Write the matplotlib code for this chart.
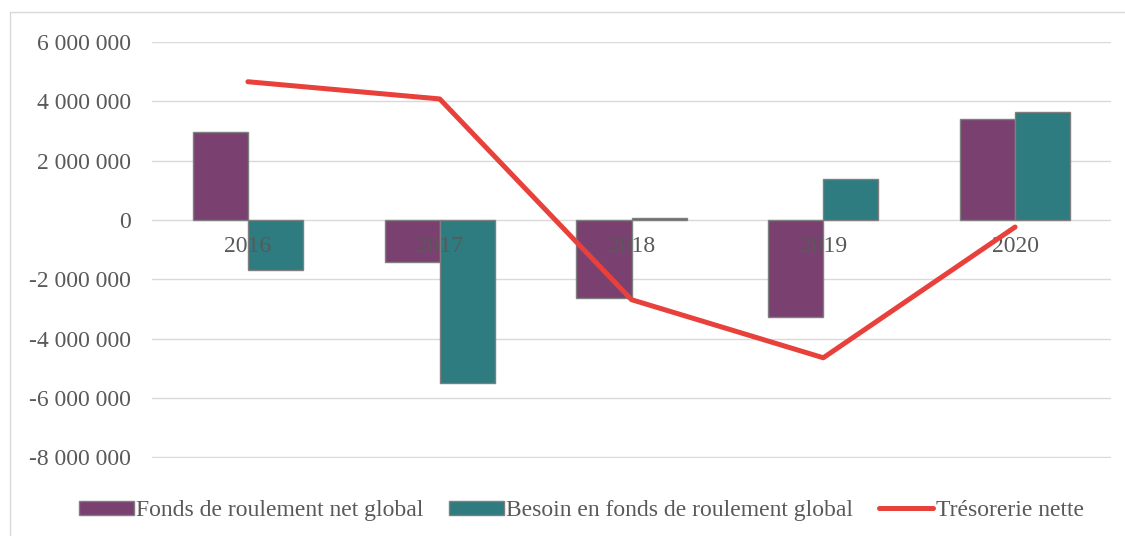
import numpy as np
import matplotlib.pyplot as plt
from matplotlib.patches import Rectangle

annees = ["2016", "2017", "2018", "2019", "2020"]
frng = [2970000, -1420000, -2630000, -3270000, 3400000]
bfrg = [-1690000, -5500000, 60000, 1380000, 3640000]
treso = [4660000, 4080000, -2690000, -4650000, -240000]

gris = "#595959"
plt.rcParams["font.family"] = ["Liberation Serif", "DejaVu Serif"]

fig = plt.figure(figsize=(11.25, 5.36), dpi=100)
ax = fig.add_axes([152 / 1125, 1 - 458 / 536, 959 / 1125, 416 / 536])

# cadre du graphique
fig.patches.append(Rectangle((10 / 1125, -0.05), 1.2, 1 - 12 / 536 + 0.05,
                             transform=fig.transFigure, fill=False,
                             edgecolor="#d9d9d9", lw=1))

x = np.arange(len(annees))
w = 0.287
b1 = ax.bar(x - w / 2, frng, w, color="#7a4070", edgecolor="#7f7f7f", lw=1,
            label="Fonds de roulement net global", zorder=2)
b2 = ax.bar(x + w / 2, bfrg, w, color="#2e7b80", edgecolor="#7f7f7f", lw=1,
            label="Besoin en fonds de roulement global", zorder=2)
l1, = ax.plot(x, treso, color="#e8413c", lw=3.6, solid_capstyle="round",
              label="Trésorerie nette", zorder=4)

ax.set_xlim(-0.5, len(annees) - 0.5)
ax.set_ylim(-8030000, 6000000)
yt = np.arange(-8000000, 6000001, 2000000)
ax.set_yticks(yt)
ax.set_yticklabels([f"{v:,}".replace(",", " ") for v in yt])
ax.tick_params(axis="y", length=0, pad=15, labelsize=17, labelcolor=gris)
ax.set_xticks([])
ax.grid(axis="y", color="#d9d9d9", lw=1, zorder=0)
ax.set_axisbelow(True)
for s in ax.spines.values():
    s.set_visible(False)

for i, a in enumerate(annees):
    ax.annotate(a, (i, 0), xytext=(0, -16), textcoords="offset pixels",
                ha="center", va="top", fontsize=17, color=gris, zorder=3)

leg = fig.legend([b1, b2, l1],
                 ["Fonds de roulement net global",
                  "Besoin en fonds de roulement global", "Trésorerie nette"],
                 loc="lower center", bbox_to_anchor=(0.517, -0.012), ncol=3,
                 frameon=False, fontsize=17, handlelength=2.3,
                 handleheight=0.55, handletextpad=0.1, columnspacing=1.1)
for t in leg.get_texts():
    t.set_color(gris)

fig.savefig("out.png", dpi=100)
